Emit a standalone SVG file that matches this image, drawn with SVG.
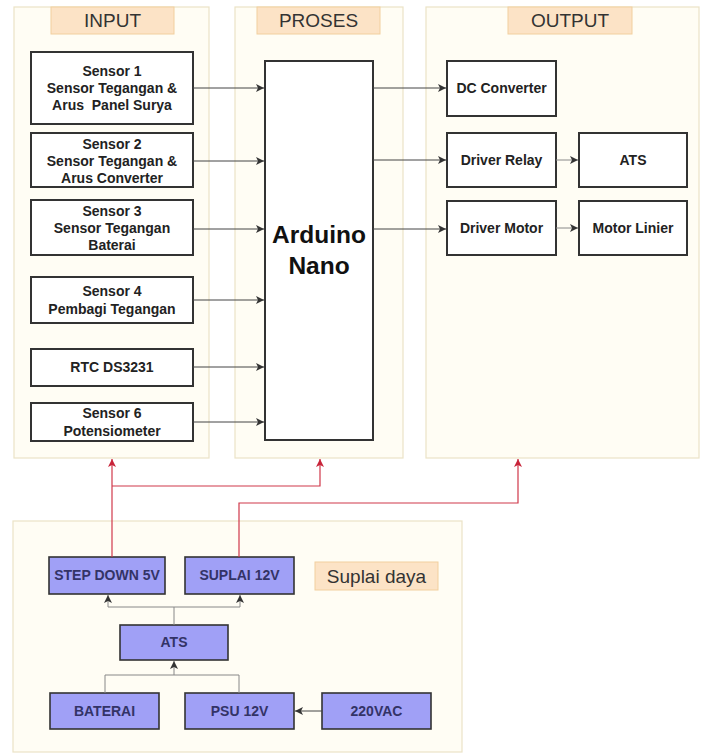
<svg xmlns="http://www.w3.org/2000/svg" width="703" height="754" viewBox="0 0 703 754">
<style>
.cont{fill:#fffdf4;stroke:#ebe3c6;stroke-width:1.2}
.lab{fill:#fce3c6;stroke:#f2cf9e;stroke-width:1}
.labt{font-family:"Liberation Sans",Arial,sans-serif;font-size:19px;fill:#333;text-anchor:middle}
.box{fill:#fff;stroke:#333;stroke-width:2}
.bt{font-family:"Liberation Sans",Arial,sans-serif;font-size:14px;font-weight:bold;fill:#222;text-anchor:middle}
.blue{fill:#a0a0f6;stroke:#333;stroke-width:1.6}
.blt{font-family:"Liberation Sans",Arial,sans-serif;font-size:14px;font-weight:bold;fill:#333366;text-anchor:middle}
.big{font-family:"Liberation Sans",Arial,sans-serif;font-size:24.5px;font-weight:bold;fill:#111;text-anchor:middle}
.c{fill:none;stroke:#444;stroke-width:1}
.cg{fill:none;stroke:#888;stroke-width:1}
.cr{fill:none;stroke:#d0384a;stroke-width:1.2}
</style>
<defs>
<marker id="ah" markerUnits="userSpaceOnUse" markerWidth="9" markerHeight="9" refX="8" refY="4" orient="auto"><path d="M0,0 L8,4 L0,8 L2,4 z" fill="#333"/></marker>
<marker id="ar" markerUnits="userSpaceOnUse" markerWidth="9" markerHeight="9" refX="8" refY="4" orient="auto"><path d="M0,0 L8,4 L0,8 L2,4 z" fill="#c8243a"/></marker>
</defs>

<g id="input-group">
<rect class="cont" x="14" y="7" width="195" height="451"/>
<rect class="lab" x="51" y="7" width="123" height="27"/>
<text class="labt" x="112.5" y="27">INPUT</text>
</g>
<g id="proses-group">
<rect class="cont" x="235" y="7" width="168" height="451"/>
<rect class="lab" x="257" y="7" width="123" height="27"/>
<text class="labt" x="318.5" y="27">PROSES</text>
</g>
<g id="output-group">
<rect class="cont" x="426" y="7" width="273" height="451"/>
<rect class="lab" x="508" y="7" width="124" height="27"/>
<text class="labt" x="570" y="27">OUTPUT</text>
</g>
<g id="suplai-group">
<rect class="cont" x="13" y="521" width="449" height="231"/>
<rect class="lab" x="315" y="562" width="123" height="28"/>
<text class="labt" x="376.5" y="583">Suplai daya</text>
</g>

<g id="sensor1">
<rect class="box" x="31" y="52" width="162" height="72"/>
<text class="bt" x="112" y="76">Sensor 1</text>
<text class="bt" x="112" y="93">Sensor Tegangan &amp;</text>
<text class="bt" x="112" y="110" xml:space="preserve">Arus  Panel Surya</text>
</g>
<g id="sensor2">
<rect class="box" x="31" y="133" width="162" height="54"/>
<text class="bt" x="112" y="149">Sensor 2</text>
<text class="bt" x="112" y="166">Sensor Tegangan &amp;</text>
<text class="bt" x="112" y="183">Arus Converter</text>
</g>
<g id="sensor3">
<rect class="box" x="31" y="200" width="162" height="55"/>
<text class="bt" x="112" y="216">Sensor 3</text>
<text class="bt" x="112" y="233">Sensor Tegangan</text>
<text class="bt" x="112" y="250">Baterai</text>
</g>
<g id="sensor4">
<rect class="box" x="31" y="277" width="162" height="46"/>
<text class="bt" x="112" y="296">Sensor 4</text>
<text class="bt" x="112" y="314">Pembagi Tegangan</text>
</g>
<g id="rtc">
<rect class="box" x="31" y="349" width="162" height="37"/>
<text class="bt" x="112" y="372">RTC DS3231</text>
</g>
<g id="sensor6">
<rect class="box" x="31" y="403" width="162" height="38"/>
<text class="bt" x="112" y="418">Sensor 6</text>
<text class="bt" x="112" y="436">Potensiometer</text>
</g>

<g id="arduino">
<rect class="box" x="265" y="61" width="108" height="379"/>
<text class="big" x="319" y="243">Arduino</text>
<text class="big" x="319" y="274">Nano</text>
</g>

<g id="dcconv">
<rect class="box" x="447" y="61" width="109" height="55"/>
<text class="bt" x="501.5" y="93">DC Converter</text>
</g>
<g id="relay">
<rect class="box" x="447" y="133" width="109" height="54"/>
<text class="bt" x="501.5" y="165">Driver Relay</text>
</g>
<g id="ats-out">
<rect class="box" x="579" y="133" width="108" height="54"/>
<text class="bt" x="633" y="165">ATS</text>
</g>
<g id="motor">
<rect class="box" x="447" y="201" width="109" height="54"/>
<text class="bt" x="501.5" y="233">Driver Motor</text>
</g>
<g id="linier">
<rect class="box" x="579" y="201" width="108" height="54"/>
<text class="bt" x="633" y="233">Motor Linier</text>
</g>

<g id="stepdown">
<rect class="blue" x="49" y="557" width="116" height="37"/>
<text class="blt" x="107" y="580">STEP DOWN 5V</text>
</g>
<g id="suplai12">
<rect class="blue" x="185" y="557" width="109" height="37"/>
<text class="blt" x="239.5" y="580">SUPLAI 12V</text>
</g>
<g id="ats-in">
<rect class="blue" x="120" y="625" width="108" height="35"/>
<text class="blt" x="174" y="647">ATS</text>
</g>
<g id="baterai">
<rect class="blue" x="50" y="693" width="109" height="36"/>
<text class="blt" x="104.5" y="716">BATERAI</text>
</g>
<g id="psu">
<rect class="blue" x="185" y="693" width="109" height="36"/>
<text class="blt" x="239.5" y="716">PSU 12V</text>
</g>
<g id="vac">
<rect class="blue" x="322" y="693" width="109" height="36"/>
<text class="blt" x="376.5" y="716">220VAC</text>
</g>

<g id="connectors">
<path class="c" d="M193 88 H264" marker-end="url(#ah)"/>
<path class="c" d="M193 161 H264" marker-end="url(#ah)"/>
<path class="c" d="M193 229 H264" marker-end="url(#ah)"/>
<path class="c" d="M193 300 H264" marker-end="url(#ah)"/>
<path class="c" d="M193 367 H264" marker-end="url(#ah)"/>
<path class="c" d="M193 422 H264" marker-end="url(#ah)"/>
<path class="c" d="M373 88 H446" marker-end="url(#ah)"/>
<path class="c" d="M373 160 H446" marker-end="url(#ah)"/>
<path class="c" d="M373 229 H446" marker-end="url(#ah)"/>
<path class="cg" d="M556 160 H578" marker-end="url(#ah)"/>
<path class="cg" d="M556 228 H578" marker-end="url(#ah)"/>
<path class="cr" d="M112 557 V459" marker-end="url(#ar)"/>
<path class="cr" d="M112 486 H320 V459" marker-end="url(#ar)"/>
<path class="cr" d="M239 557 V503 H518 V459" marker-end="url(#ar)"/>
<path class="cg" d="M174 625 V607 H108 V595" marker-end="url(#ah)"/>
<path class="cg" d="M174 607 H240 V595" marker-end="url(#ah)"/>
<path class="cg" d="M105 693 V675 H174 V661" marker-end="url(#ah)"/>
<path class="cg" d="M239 693 V675 H174"/>
<path class="c" d="M322 711 H295" marker-end="url(#ah)"/>
</g>
</svg>
